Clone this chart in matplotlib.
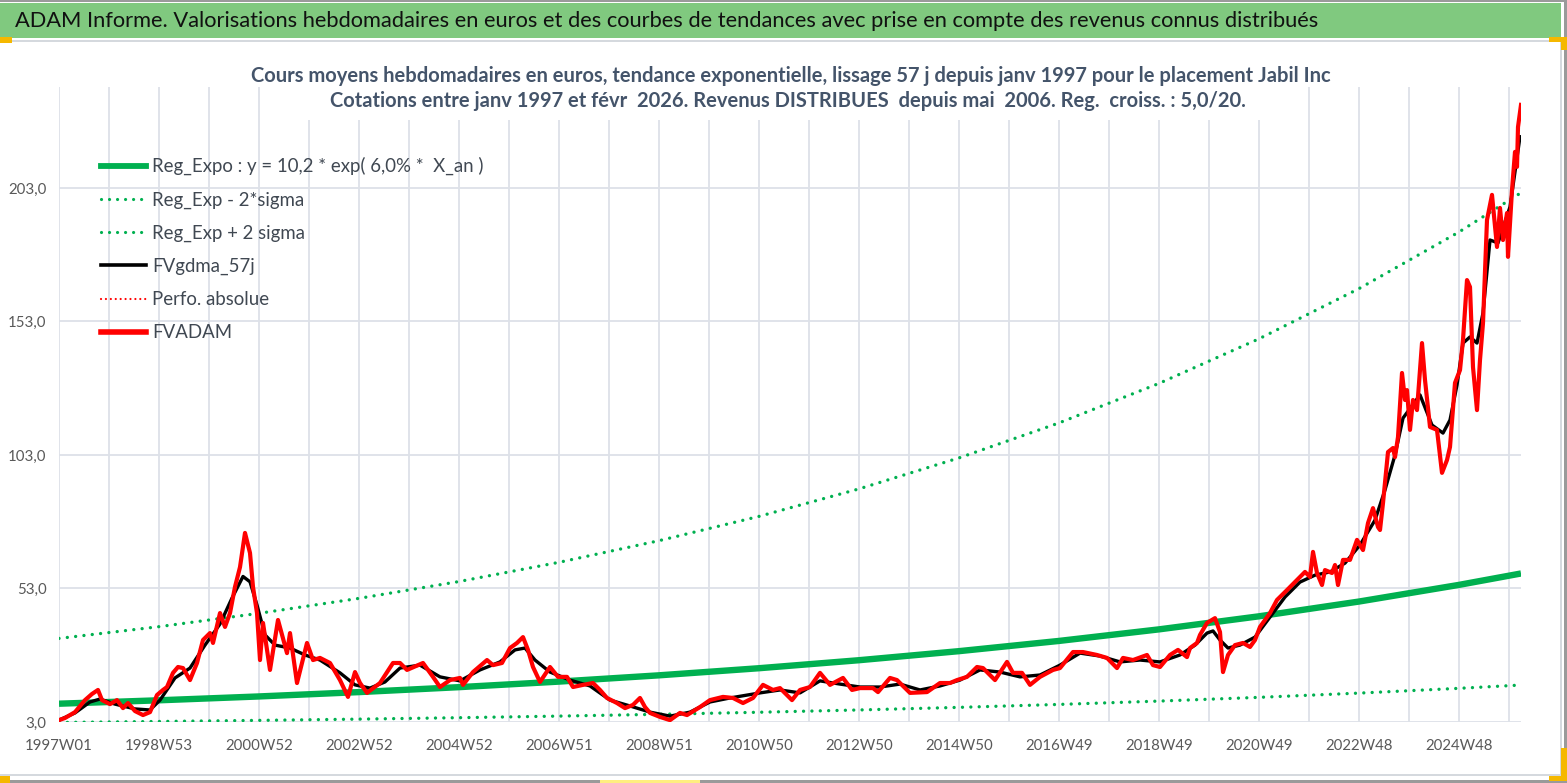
import matplotlib
matplotlib.use("Agg")
import matplotlib.pyplot as plt
from matplotlib.lines import Line2D
from matplotlib.patches import Rectangle

# ---------------- data (years since 1997W01, value in euros) ----------------
trend_t = [0, 2, 4, 6, 8, 10, 12, 14, 16, 18, 20, 22, 24, 26, 28, 29.24]
reg_expo = [9.85, 11.13, 12.57, 14.20, 16.05, 18.13, 20.48, 23.14, 26.14, 29.53,
            33.36, 37.69, 42.58, 48.11, 54.35, 58.62]
reg_low = [2.83, 3.20, 3.61, 4.08, 4.61, 5.21, 5.88, 6.65, 7.51, 8.48, 9.58,
           10.83, 12.23, 13.82, 15.61, 16.84]
reg_high = [34.3, 38.7, 43.7, 49.3, 55.6, 62.8, 70.9, 80.0, 90.3, 101.9, 115.0,
            129.8, 146.5, 165.3, 186.5, 201.2]

fvadam_points = [
    (0.00, 3.7), (0.12, 4.5), (0.32, 6.7), (0.52, 11.2), (0.66, 13.5), (0.78, 15.0),
    (0.86, 11.2), (1.02, 9.7), (1.16, 11.2), (1.28, 8.2), (1.38, 10.1), (1.52, 7.1),
    (1.68, 5.6), (1.82, 6.7), (1.96, 13.1), (2.08, 15.0), (2.16, 16.1), (2.28, 21.4),
    (2.38, 23.6), (2.48, 23.2), (2.62, 18.7), (2.76, 25.1), (2.88, 33.7), (3.02, 36.3),
    (3.08, 32.6), (3.22, 43.8), (3.32, 38.6), (3.42, 43.8), (3.52, 53.6), (3.62, 61.0),
    (3.72, 73.8), (3.82, 66.3), (3.88, 53.6), (3.96, 43.8), (4.02, 26.2), (4.08, 40.1),
    (4.22, 22.5), (4.38, 41.2), (4.56, 28.8), (4.62, 36.3), (4.76, 17.6), (4.96, 32.6),
    (5.08, 26.2), (5.22, 27.0), (5.42, 25.1), (5.62, 18.7), (5.78, 12.4), (5.92, 21.7),
    (6.02, 17.6), (6.16, 13.9), (6.42, 17.6), (6.68, 25.1), (6.82, 25.1), (6.96, 22.5),
    (7.28, 25.1), (7.48, 19.9), (7.62, 16.1), (7.82, 18.7), (8.02, 19.5), (8.08, 16.9),
    (8.28, 21.7), (8.56, 26.2), (8.68, 24.3), (8.86, 25.1), (9.02, 30.7), (9.16, 32.6),
    (9.28, 34.8), (9.38, 30.0), (9.48, 23.6), (9.62, 18.0), (9.82, 23.6), (9.98, 19.9),
    (10.16, 19.9), (10.28, 16.1), (10.48, 16.9), (10.68, 17.6), (10.82, 15.0), (10.96, 12.0),
    (11.16, 10.1), (11.32, 8.2), (11.48, 9.4), (11.62, 12.0), (11.72, 8.6), (11.82, 6.4),
    (12.02, 4.9), (12.22, 3.7), (12.42, 6.4), (12.56, 5.6), (12.82, 8.6), (13.02, 11.2),
    (13.28, 12.4), (13.48, 12.0), (13.68, 10.1), (13.88, 12.0), (14.08, 16.9), (14.28, 15.0),
    (14.42, 15.7), (14.66, 11.2), (14.82, 15.0), (15.02, 16.1), (15.22, 21.4), (15.42, 16.9),
    (15.68, 19.5), (15.86, 15.0), (16.02, 15.7), (16.28, 15.7), (16.38, 14.2), (16.62, 19.5),
    (16.76, 18.7), (17.02, 13.9), (17.36, 14.2), (17.62, 17.6), (17.82, 17.6), (17.96, 18.7),
    (18.16, 19.9), (18.36, 23.6), (18.48, 23.2), (18.72, 18.7), (18.96, 25.5), (19.08, 21.4),
    (19.26, 21.4), (19.42, 16.9), (19.62, 19.9), (19.88, 22.5), (20.02, 23.2), (20.28, 29.2),
    (20.48, 29.2), (20.76, 28.1), (20.96, 27.0), (21.16, 23.2), (21.28, 27.0), (21.48, 26.2),
    (21.76, 28.1), (21.88, 24.3), (22.02, 23.6), (22.22, 28.1), (22.38, 30.0), (22.56, 27.3),
    (22.62, 30.7), (22.76, 32.6), (22.82, 35.6), (22.96, 40.1), (23.12, 41.9), (23.22, 36.7),
    (23.28, 21.7), (23.38, 28.1), (23.52, 31.8), (23.68, 32.6), (23.82, 31.1), (23.92, 33.7),
    (24.02, 38.6), (24.22, 43.8), (24.36, 48.7), (24.56, 52.4), (24.76, 56.2), (24.92, 59.2),
    (25.02, 57.3), (25.08, 66.7), (25.16, 58.8), (25.26, 54.3), (25.32, 59.9), (25.46, 58.8),
    (25.52, 61.8), (25.58, 54.3), (25.68, 63.7), (25.82, 63.7), (25.96, 71.2), (26.08, 67.4),
    (26.18, 77.5), (26.28, 83.1), (26.38, 76.0), (26.42, 74.9), (26.48, 85.0), (26.58, 104.1),
    (26.68, 105.6), (26.72, 102.2), (26.78, 109.7), (26.86, 133.7), (26.92, 123.6), (26.96, 127.3),
    (27.02, 112.4), (27.08, 123.6), (27.16, 119.8), (27.22, 134.8), (27.26, 144.9), (27.32, 131.1),
    (27.42, 113.5), (27.56, 112.4), (27.66, 96.3), (27.76, 101.1), (27.82, 106.0), (27.92, 130.0),
    (28.02, 134.8), (28.08, 146.1), (28.16, 168.5), (28.22, 165.9), (28.28, 135.9), (28.36, 119.8),
    (28.42, 138.6), (28.48, 152.4), (28.56, 191.0), (28.66, 200.4), (28.76, 180.9), (28.82, 195.5),
    (28.88, 183.5), (28.96, 193.6), (28.98, 177.2), (29.06, 202.2), (29.12, 216.5), (29.16, 210.9),
    (29.18, 225.8), (29.24, 234.1),
]

gdma_points = [
    (0.00, 3.7), (0.32, 6.4), (0.62, 10.5), (0.82, 11.6), (1.12, 9.7), (1.52, 7.9),
    (1.82, 7.5), (2.02, 11.2), (2.32, 19.5), (2.62, 23.2), (2.92, 31.8), (3.22, 39.7),
    (3.46, 49.4), (3.68, 57.5), (3.82, 55.5), (3.96, 46.8), (4.12, 35.6), (4.32, 31.8),
    (4.62, 30.7), (4.92, 28.1), (5.22, 26.2), (5.62, 21.4), (5.92, 16.9), (6.22, 15.7),
    (6.52, 18.0), (6.82, 23.2), (7.22, 24.3), (7.62, 19.9), (8.02, 18.4), (8.42, 22.5),
    (8.82, 25.5), (9.12, 30.0), (9.32, 30.7), (9.52, 26.2), (9.82, 21.7), (10.22, 18.7),
    (10.62, 16.5), (11.02, 11.2), (11.42, 9.0), (11.82, 6.7), (12.22, 5.2), (12.62, 6.7),
    (13.02, 10.5), (13.42, 12.0), (14.02, 13.9), (14.42, 15.0), (14.82, 13.9), (15.22, 18.4),
    (15.62, 17.2), (16.02, 16.1), (16.42, 16.1), (16.82, 17.2), (17.22, 15.0), (17.62, 16.5),
    (18.02, 18.7), (18.42, 22.5), (18.82, 21.7), (19.22, 19.9), (19.62, 20.6), (20.02, 24.3),
    (20.42, 28.8), (20.82, 27.7), (21.22, 25.5), (21.62, 26.2), (22.02, 25.5), (22.42, 28.1),
    (22.72, 31.8), (22.96, 36.3), (23.08, 37.1), (23.22, 33.7), (23.38, 30.7), (23.62, 31.8),
    (23.92, 34.8), (24.22, 42.3), (24.52, 49.8), (24.82, 55.4), (25.12, 58.0), (25.42, 59.2),
    (25.72, 62.5), (26.02, 69.3), (26.32, 78.6), (26.52, 89.9), (26.72, 103.0), (26.88, 116.8),
    (27.22, 125.5), (27.46, 114.2), (27.68, 111.2), (27.82, 116.1), (27.96, 129.2), (28.08, 144.9),
    (28.22, 147.2), (28.36, 144.9), (28.48, 156.2), (28.62, 183.5), (28.78, 182.4), (29.02, 195.9),
    (29.22, 222.2),
]

xtick_pos = [0, 2, 4, 6, 8, 10, 12, 14, 16, 18, 20, 22, 24, 26, 28]
xtick_labels = ["1997W01", "1998W53", "2000W52", "2002W52", "2004W52", "2006W51",
                "2008W51", "2010W50", "2012W50", "2014W50", "2016W49", "2018W49",
                "2020W49", "2022W48", "2024W48"]
ytick_vals = [3, 53, 103, 153, 203]
ytick_labels = ["3,0", "53,0", "103,0", "153,0", "203,0"]

legend_labels = ["Reg_Expo : y = 10,2 * exp( 6,0% *  X_an )", "Reg_Exp - 2*sigma",
                 "Reg_Exp + 2 sigma", "FVgdma_57j", "Perfo. absolue", "FVADAM"]

banner_title = ("ADAM Informe. Valorisations hebdomadaires en euros et des courbes de "
                "tendances avec prise en compte des revenus connus distribués")
sub1 = ("Cours moyens hebdomadaires en euros, tendance exponentielle, lissage 57 j "
        "depuis janv 1997 pour le placement Jabil Inc")
sub2 = ("Cotations entre janv 1997 et févr  2026. Revenus DISTRIBUES  depuis mai  2006. "
        "Reg.  croiss. : 5,0/20.")

# ---------------- figure ----------------
W, H, DPI = 1567, 783, 100
FONT = ["Lato", "DejaVu Sans"]
plt.rcParams["font.family"] = FONT

fig = plt.figure(figsize=(W / DPI, H / DPI), dpi=DPI)
fig.patch.set_facecolor("white")


def px(x, y):
    return x / W, 1 - y / H


def frect(x0, y0, x1, y1, color, z=5):
    fig.patches.append(Rectangle((x0 / W, 1 - y1 / H), (x1 - x0) / W, (y1 - y0) / H,
                                 transform=fig.transFigure, facecolor=color,
                                 edgecolor="none", zorder=z))


# frame / banner
frect(0, 0, W, 2, "#9a9a9a")
frect(0, 3, 1561, 38, "#80C97F")
frect(0, 40, 1561, 42, "#d5d9de")
frect(1560, 40, 1562, 776, "#d5d9de")
frect(0, 774, 1562, 776, "#d5d9de")
frect(1564, 0, W, H, "#9a9a9a")
frect(0, 780, W, H, "#9a9a9a")
frect(0, 37, 12, 43, "#F5B800")
frect(1549, 37, 1567, 42, "#F5B800")
frect(1561, 37, 1567, 50, "#F5B800")
frect(1561, 748, 1567, 781, "#F5B800")
frect(1549, 776, 1567, 781, "#F5B800")
frect(0, 776, 10, 783, "#F5B800")
frect(600, 780, 700, 783, "#FFEE80")

# axes
left, right, top, bottom = 59, 1521, 87, 722
ax = fig.add_axes([left / W, 1 - bottom / H, (right - left) / W, (bottom - top) / H])
ax.set_facecolor("none")
ax.set_xlim(0, 29.24)
ax.set_ylim(3, 240.8)
for s in ax.spines.values():
    s.set_visible(False)

ax.set_xticks(xtick_pos)
ax.set_xticklabels(xtick_labels)
ax.set_xticks(list(range(1, 30, 2)), minor=True)
ax.set_yticks(ytick_vals)
ax.set_yticklabels(ytick_labels)
ax.tick_params(axis="both", which="both", length=0)
ax.tick_params(axis="x", pad=12, labelsize=10.8, labelcolor="#595959")
ax.tick_params(axis="y", pad=9, labelsize=10.8, labelcolor="#595959")
ax.grid(True, which="both", color="#dde1e8", linewidth=1.3, zorder=0)
ax.set_axisbelow(True)

GREEN = "#00B050"
DOT = (0, (0.01, 2.5))
ax.plot(trend_t, reg_expo, color=GREEN, lw=4.6, solid_capstyle="butt", zorder=3)
ax.plot(trend_t, reg_low, color=GREEN, lw=2.4, linestyle=DOT, dash_capstyle="round", zorder=3)
ax.plot(trend_t, reg_high, color=GREEN, lw=2.4, linestyle=DOT, dash_capstyle="round", zorder=3)

ft = [p[0] for p in fvadam_points]
fv = [p[1] for p in fvadam_points]
gt = [p[0] for p in gdma_points]
gv = [p[1] for p in gdma_points]
ax.plot([], [], color="red", lw=1.6, linestyle=DOT, dash_capstyle="round")
ax.plot(gt, gv, color="black", lw=2.4, zorder=4, solid_joinstyle="round")
ax.plot(ft, fv, color="#FF0000", lw=3.0, zorder=5, solid_joinstyle="round")

handles = [
    Line2D([], [], color=GREEN, lw=4.2),
    Line2D([], [], color=GREEN, lw=2.3, linestyle=DOT, dash_capstyle="round"),
    Line2D([], [], color=GREEN, lw=2.3, linestyle=DOT, dash_capstyle="round"),
    Line2D([], [], color="black", lw=2.6),
    Line2D([], [], color="red", lw=1.6, linestyle=(0, (0.01, 2.2)), dash_capstyle="round"),
    Line2D([], [], color="#FF0000", lw=4.0),
]
leg = fig.legend(handles, legend_labels, loc="upper left", bbox_to_anchor=px(101, 157),
                 frameon=False, fontsize=13.4, handlelength=2.4, handletextpad=0.35,
                 labelspacing=0.86, borderpad=0, borderaxespad=0, labelcolor="#404852")

# titles
r = fig.canvas.get_renderer()


def fit(t, width):
    w = t.get_window_extent(r).width
    t.set_fontsize(t.get_fontsize() * width / w)


tt = fig.text(*px(15, 21), banner_title, ha="left", va="center", fontsize=16,
              color="#111111", zorder=10)
fit(tt, 1315)
s1 = fig.text(*px(791, 76), sub1, ha="center", va="center", fontsize=13,
              fontweight="bold", color="#44546A", zorder=10)
fit(s1, 1078)
s2 = fig.text(*px(788, 101), sub2, ha="center", va="center", fontsize=s1.get_fontsize(),
              fontweight="bold", color="#44546A", zorder=10)
frect(268, 87, 1300, 120, "white", z=2)

fig.savefig("out.png", dpi=DPI, facecolor="white")
